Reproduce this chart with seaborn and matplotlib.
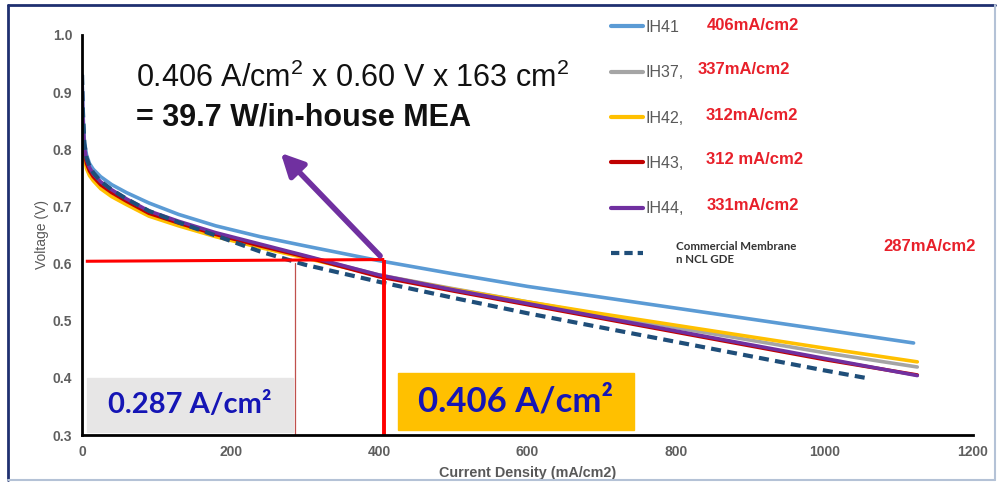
import matplotlib
matplotlib.use("Agg")
import matplotlib.pyplot as plt
import seaborn as sns
import pandas as pd
from matplotlib.patches import Rectangle
from matplotlib.lines import Line2D

# polarisation curves (current density in mA/cm2, voltage in V)
cur = [0, 1, 3, 6, 10, 15, 25, 40, 60, 90, 130, 180, 240, 300, 400, 500, 600, 700, 800, 900, 1000]
cur_blue = cur + [1120]
cur_ih = cur + [1125]
cur_com = cur + [1055]

ih41 = [0.93, 0.87, 0.815, 0.79, 0.775, 0.765, 0.752, 0.738, 0.724, 0.706, 0.686, 0.666, 0.647, 0.631,
        0.605, 0.582, 0.56, 0.541, 0.522, 0.503, 0.484, 0.461]
ih37 = [0.87, 0.83, 0.80, 0.778, 0.764, 0.754, 0.74, 0.726, 0.711, 0.69, 0.672, 0.652, 0.632, 0.613,
        0.58, 0.556, 0.533, 0.51, 0.488, 0.466, 0.444, 0.419]
ih42 = [0.83, 0.80, 0.785, 0.766, 0.754, 0.745, 0.731, 0.717, 0.703, 0.683, 0.666, 0.647, 0.628, 0.61,
        0.579, 0.555, 0.533, 0.512, 0.492, 0.472, 0.452, 0.428]
ih43 = [0.84, 0.82, 0.795, 0.775, 0.762, 0.752, 0.738, 0.724, 0.709, 0.688, 0.671, 0.651, 0.631, 0.612,
        0.577, 0.552, 0.528, 0.504, 0.48, 0.456, 0.432, 0.405]
ih44 = [0.92, 0.86, 0.805, 0.782, 0.768, 0.757, 0.743, 0.729, 0.713, 0.692, 0.674, 0.654, 0.634, 0.614,
        0.58, 0.554, 0.53, 0.506, 0.482, 0.458, 0.434, 0.404]
commercial = [0.93, 0.87, 0.81, 0.785, 0.77, 0.759, 0.744, 0.729, 0.713, 0.692, 0.672, 0.649, 0.621, 0.598,
              0.568, 0.54, 0.513, 0.488, 0.463, 0.438, 0.413, 0.40]

names = ["IH41", "IH37,", "IH42,", "IH43,", "IH44,", " "]
at_06v = ["406mA/cm2", "337mA/cm2", "312mA/cm2", "312 mA/cm2", "331mA/cm2", "287mA/cm2"]
colors = ["#5B9BD5", "#A5A5A5", "#FFC000", "#C00000", "#7030A0", "#1F4E79"]

v_op = 0.604
j_ref = 287
j_best = 407

sns.set_style("white")
plt.rcParams['font.family'] = ['Liberation Sans', 'DejaVu Sans']
plt.rcParams['mathtext.fontset'] = 'custom'
plt.rcParams['mathtext.rm'] = 'Liberation Sans'

fig = plt.figure(figsize=(10.01, 4.82), dpi=100)
ax = fig.add_axes([0.082, 0.0975, 0.890, 0.830])

series = [(cur_blue, ih41), (cur_ih, ih37), (cur_ih, ih42), (cur_ih, ih43), (cur_ih, ih44), (cur_com, commercial)]
for i, (x, y) in enumerate(series):
    df = pd.DataFrame({'j': x, 'V': y})
    if i == 5:
        sns.lineplot(data=df, x='j', y='V', ax=ax, color=colors[i], lw=3, linestyle=(0, (2.4, 1.5)))
    else:
        sns.lineplot(data=df, x='j', y='V', ax=ax, color=colors[i], lw=2.6)

# operating point guide lines
ax.plot([5, j_best], [v_op, v_op + 0.003], color='#FF0000', lw=2.2, solid_capstyle='butt')
ax.plot([j_best, j_best], [0.3, v_op + 0.003], color='#FF0000', lw=2.8, solid_capstyle='butt')
ax.plot([j_ref, j_ref], [0.3, v_op - 0.003], color='#C0504D', lw=0.9)

ax.annotate('', xy=(265, 0.797), xytext=(404, 0.61),
            arrowprops=dict(arrowstyle='-|>', color='#7030A0', lw=4, mutation_scale=34))

ax.add_patch(Rectangle((6, 0.305), 278, 0.095, color='#E7E6E6', zorder=1))
ax.add_patch(Rectangle((426, 0.309), 317, 0.100, color='#FFC000', zorder=1))
ax.text(145, 0.352, '0.287 A/cm²', ha='center', va='center', fontsize=21,
        fontweight='bold', color='#1515B5', family=['Lato', 'DejaVu Sans'])
ax.text(584, 0.358, '0.406 A/cm²', ha='center', va='center', fontsize=25,
        fontweight='bold', color='#1515B5', family=['Lato', 'DejaVu Sans'])

ax.text(73, 0.924, r'0.406 A/cm$^\mathrm{2}$ x 0.60 V x 163 cm$^\mathrm{2}$', ha='left', va='center',
        fontsize=22, color='#111111')
ax.text(73, 0.855, '= 39.7 W/in-house MEA', ha='left', va='center', fontsize=22,
        fontweight='bold', color='#111111')

ax.set_xlim(0, 1200)
ax.set_ylim(0.3, 1.0)
ax.set_xticks([0, 200, 400, 600, 800, 1000, 1200])
ax.set_yticks([0.3, 0.4, 0.5, 0.6, 0.7, 0.8, 0.9, 1.0])
ax.set_yticklabels([f"{v:.1f}" for v in ax.get_yticks()])
ax.tick_params(axis='both', direction='out', length=4, width=1.5, color='black',
               labelsize=10, labelcolor='#5F5F5F', pad=3)
for lab in ax.get_xticklabels() + ax.get_yticklabels():
    lab.set_fontweight('bold')
ax.set_xlabel('Current Density (mA/cm2)', fontsize=10.4, color='#595959', fontweight='bold', labelpad=5)
ax.set_ylabel('Voltage (V)', fontsize=10, color='#595959', labelpad=3)
for s in ['top', 'right']:
    ax.spines[s].set_visible(False)
for s in ['left', 'bottom']:
    ax.spines[s].set_color('black')
    ax.spines[s].set_linewidth(2)
ax.patch.set_alpha(0)

# legend
handles = [Line2D([], [], color=c, lw=3) for c in colors[:5]]
handles.append(Line2D([], [], color=colors[5], lw=3, linestyle=(0, (2.0, 1.2))))
fig.legend(handles, names, loc='upper left', bbox_to_anchor=(611 / 1001, 1 - 20 / 482),
           frameon=False, fontsize=11.5, labelcolor='#595959', handlelength=2.0,
           handletextpad=0.15, labelspacing=1.9, borderpad=0, borderaxespad=0)

label_x = [707, 698, 706, 706, 707, 883]
label_y = [25, 70, 115, 160, 205, 247]
for txt, lx, ly in zip(at_06v, label_x, label_y):
    fig.text(lx / 1001, 1 - ly / 482, txt, ha='left', va='center', fontsize=12,
             fontweight='bold', color='#E8202A')
fig.text(676 / 1001, 1 - 253 / 482, 'Commercial Membrane\nn NCL GDE', ha='left', va='center',
         fontsize=8.3, fontweight='bold', color='#333333', family=['Lato', 'DejaVu Sans'],
         linespacing=1.2)

# slide frame
fig.add_artist(Line2D([8 / 1001, 8 / 1001], [2 / 482, 1 - 5 / 482], color='#1F3070', lw=2))
fig.add_artist(Line2D([8 / 1001, 995 / 1001], [1 - 5 / 482, 1 - 5 / 482], color='#1F3070', lw=2))
fig.add_artist(Line2D([8 / 1001, 995 / 1001], [2 / 482, 2 / 482], color='#B4C2D6', lw=1.5))
fig.add_artist(Line2D([995 / 1001, 995 / 1001], [2 / 482, 1 - 5 / 482], color='#B4C2D6', lw=1.5))

fig.savefig('out.png', dpi=100)
